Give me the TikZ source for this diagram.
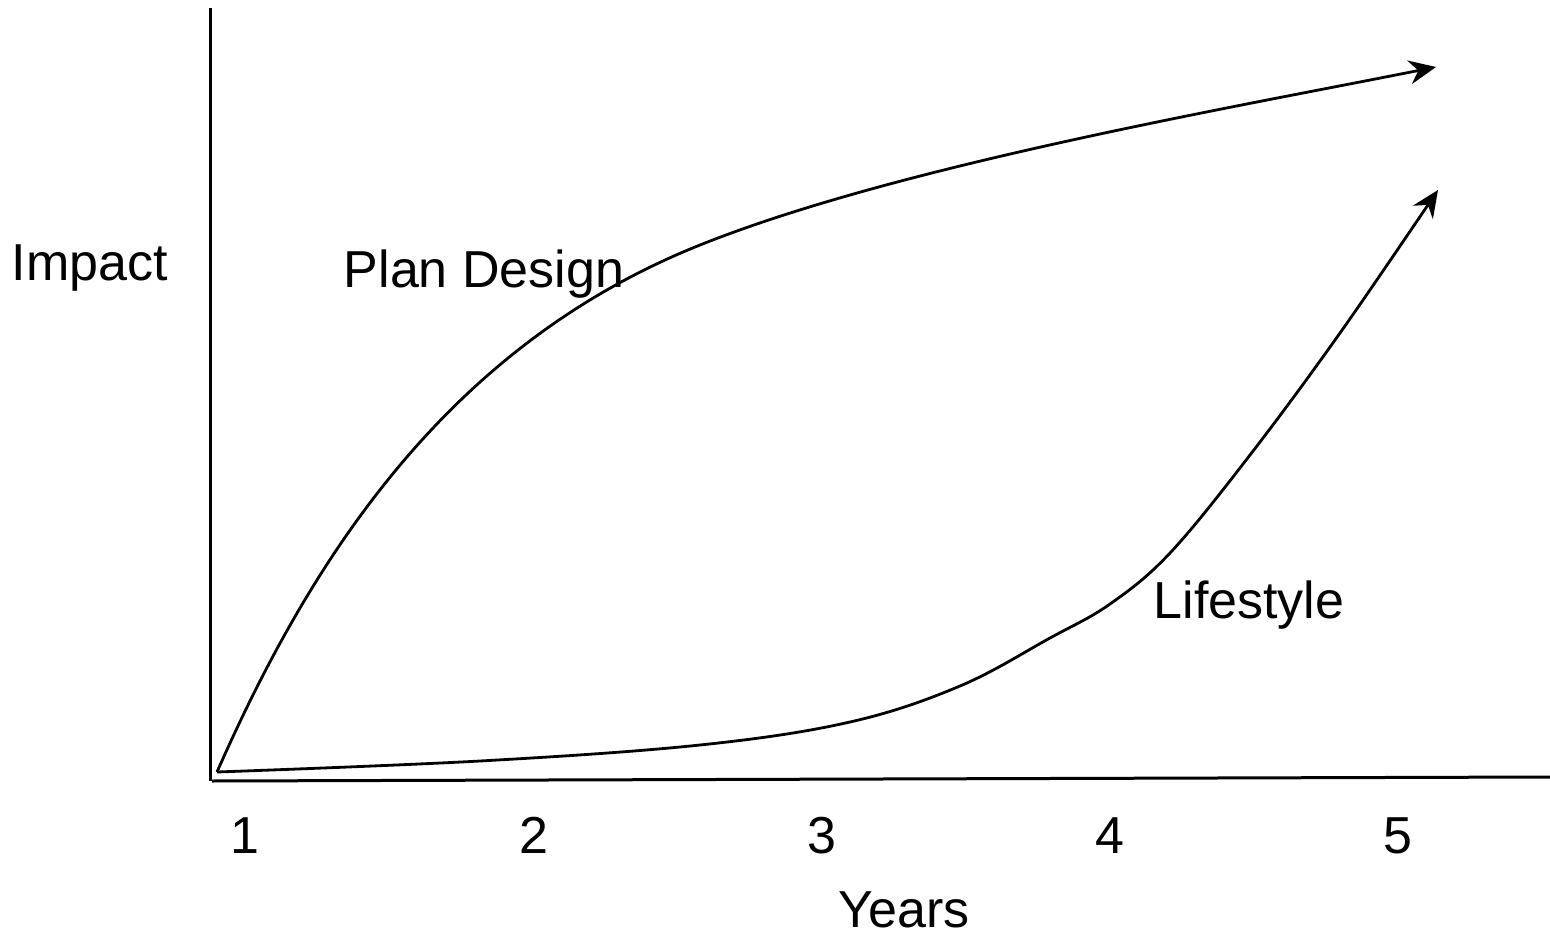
\documentclass[tikz,border=0pt]{standalone}
\usepackage{fontspec}
\setmainfont{Liberation Sans}
\usetikzlibrary{arrows.meta}
\begin{document}
\begin{tikzpicture}[x=1pt,y=-1pt,
  axis/.style={line width=3pt},
  trend/.style={line width=2.8pt,-{Stealth[length=27pt,width=24pt,inset=9pt]}},
  lbl/.style={font=\fontsize{52}{60}\selectfont,inner sep=0pt,anchor=base}]
\useasboundingbox (0,0) rectangle (1550,936);
% axes
\coordinate (ytop) at (210,8);
\coordinate (orig) at (210,781);
\coordinate (xstart) at (212,781);
\coordinate (xend) at (1550,777);
\draw[axis] (ytop) -- (orig);
\draw[axis] (xstart) -- (xend);
% both trends leave from the same point
\coordinate (start) at (217,772);
% plan design: fast rise, then a slow climb
\coordinate (planknee) at (700,245);
\coordinate (planend) at (1436,67);
\draw[trend] (start) .. controls (313,554) and (450,345) .. (planknee)
  .. controls (900,165) and (1236,107) .. (planend);
% lifestyle: slow start, then a steep rise
\coordinate (lifeend) at (1438,190);
\draw[trend] plot[smooth,tension=0.6] coordinates
  {(start) (480,761) (700,745) (850,722) (960,686) (1050,638) (1110,604)
   (1170,553) (1250,455) (1340,333) (lifeend)};
% labels
\node[lbl] (impact) at (90,280) {Impact};
\node[lbl] (plan) at (484,287) {Plan Design};
\node[lbl] (life) at (1249,618) {Lifestyle};
\node[lbl] (y1) at (245,853) {1};
\node[lbl] (y2) at (534,853) {2};
\node[lbl] (y3) at (822,853) {3};
\node[lbl] (y4) at (1110,853) {4};
\node[lbl] (y5) at (1398,853) {5};
\node[lbl] (years) at (904,927) {Years};
\end{tikzpicture}
\end{document}
